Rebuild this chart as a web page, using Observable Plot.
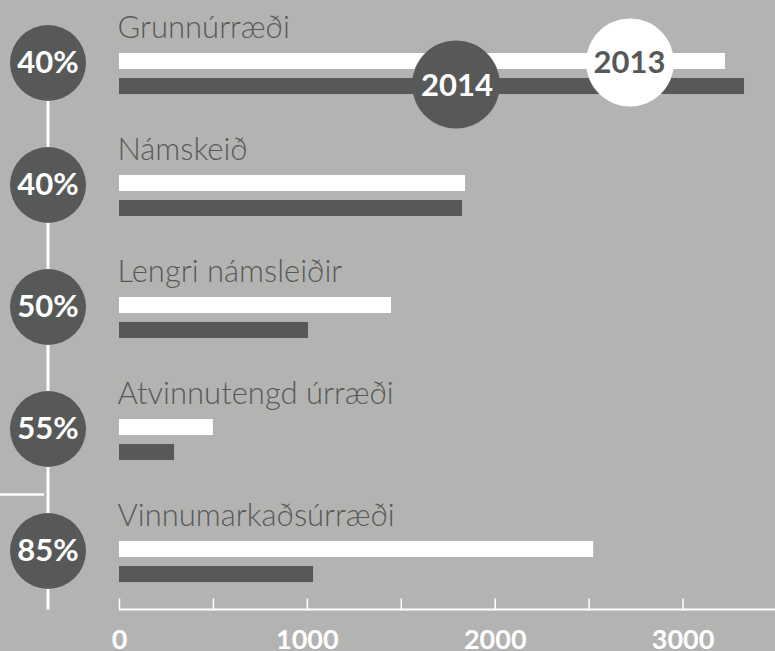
<!DOCTYPE html>
<html><head><meta charset="utf-8">
<script src="https://cdn.jsdelivr.net/npm/d3@7"></script>
<script src="https://cdn.jsdelivr.net/npm/@observablehq/plot@0.6"></script>
<style>html,body{margin:0;padding:0;background:#b3b4b2;overflow:hidden} svg{display:block}</style>
</head><body><div id="chart"></div>
<script>
const categories = ["Grunnúrræði","Námskeið","Lengri námsleiðir","Atvinnutengd úrræði","Vinnumarkaðsúrræði"];
const values2013 = [3226, 1842, 1448, 500, 2524];
const values2014 = [3327, 1826, 1006, 293, 1033];
const shares = ["40%","40%","50%","55%","85%"];
const xTicks = [0,500,1000,1500,2000,2500,3000,3500];
const xTickLabels = [0,1000,2000,3000];
const years = ["2013","2014"];

const DARK = "#575958", WHITE = "#ffffff", BG = "#b3b4b2";
const W = 775, H = 651, ML = 119, MB = 41.5;
const rows = categories.map((c,i)=>({category:c, v2013:values2013[i], v2014:values2014[i], share:shares[i]}));
const font = "Lato, 'Open Sans', sans-serif";

const chart = Plot.plot({
  width: W, height: H,
  marginLeft: ML, marginRight: 0, marginTop: 0, marginBottom: MB,
  style: {background: BG, fontFamily: font, overflow: "visible"},
  x: {domain: [0, 3492], axis: null},
  y: {type: "band", domain: categories, range: [51, 583], paddingInner: 0.666, paddingOuter: 0, axis: null},
  marks: [
    // left vertical connector line
    Plot.ruleX([0], {x: d=>d, dx: -(ML-47.5), insetTop: 60, stroke: WHITE, strokeWidth: 3}),
    // short horizontal separator
    Plot.ruleY([categories[4]], {y: d=>d, dy: -67.5, insetLeft: -ML, insetRight: W-44, stroke: WHITE, strokeWidth: 2.5}),
    // baseline
    Plot.rect([0], {x1: 0, x2: 3492, insetTop: H-MB-1, insetBottom: -1, fill: WHITE}),
    // ticks
    Plot.ruleX(xTicks, {x: d=>d, insetTop: H-MB-11, stroke: WHITE, strokeWidth: 1.5}),
    Plot.text(xTickLabels, {x: d=>d, text: d=>String(d), frameAnchor: "bottom", textAnchor: "middle", lineAnchor: "bottom", dy: 39, fill: WHITE, fontSize: 27, fontWeight: 700}),
    // category labels
    Plot.text(rows, {y: "category", x: 0, text: "category", textAnchor: "start", lineAnchor: "bottom", dx: -2, dy: -36.5, fill: DARK, fontSize: 31, fontWeight: 300}),
    // bars
    Plot.barX(rows, {y: "category", x: "v2013", fill: WHITE, insetBottom: 25}),
    Plot.barX(rows, {y: "category", x: "v2014", fill: DARK, insetTop: 25}),
    // share circles
    Plot.dot(rows, {y: "category", frameAnchor: "left", dx: -(ML-47.5), dy: -11, r: 38, fill: DARK}),
    Plot.text(rows, {y: "category", frameAnchor: "left", textAnchor: "middle", lineAnchor: "middle", text: "share", dx: -(ML-47.5), dy: -11, fill: WHITE, fontSize: 31, fontWeight: 700}),
    // year legend
    Plot.dot([years[1]], {frameAnchor: "top-left", dx: 455.5-ML, dy: 84, r: 44, fill: DARK}),
    Plot.text([years[1]], {text: d=>d, frameAnchor: "top-left", textAnchor: "middle", lineAnchor: "middle", dx: 456.5-ML, dy: 86, fill: WHITE, fontSize: 31, fontWeight: 700}),
    Plot.dot([years[0]], {frameAnchor: "top-left", dx: 629.5-ML, dy: 62, r: 44, fill: WHITE}),
    Plot.text([years[0]], {text: d=>d, frameAnchor: "top-left", textAnchor: "middle", lineAnchor: "middle", dx: 629-ML, dy: 62.5, fill: DARK, fontSize: 31, fontWeight: 700})
  ]
});
document.getElementById("chart").appendChild(chart);
</script>
</body></html>
